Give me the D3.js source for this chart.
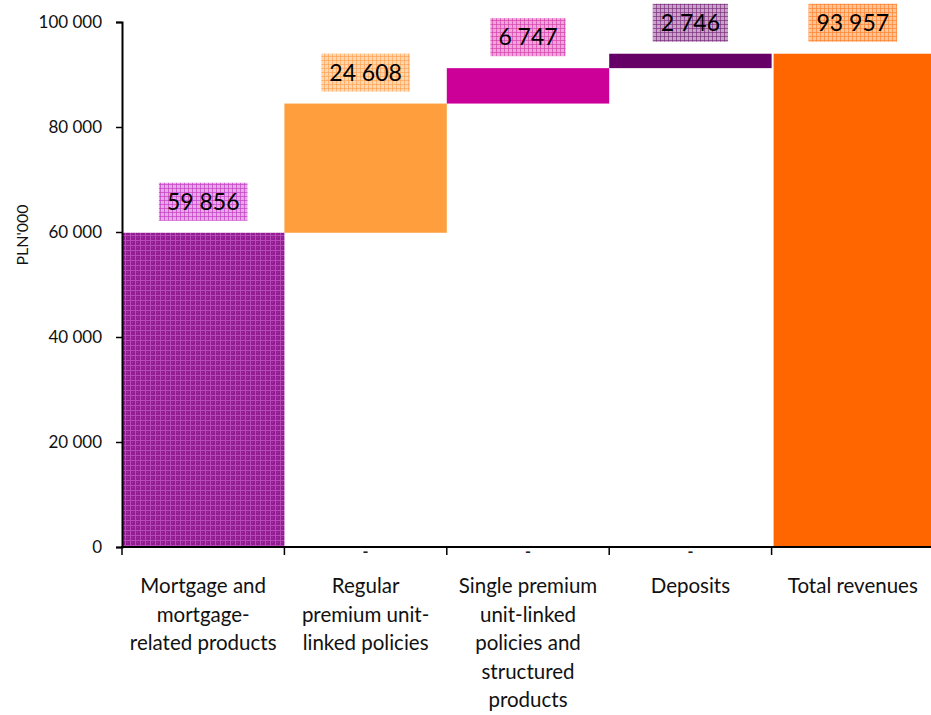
<!DOCTYPE html>
<html>
<head>
<meta charset="utf-8">
<script src="https://cdn.jsdelivr.net/npm/d3@7"></script>
<style>
  html, body { margin: 0; padding: 0; background: #fff; }
  svg { display: block; font-family: Lato, "Open Sans", sans-serif; }
</style>
</head>
<body>
<svg id="chart" width="931" height="715"></svg>
<script>
// Revenue components (PLN'000) building up to the total
const categories = [
  "Mortgage and\nmortgage-\nrelated products",
  "Regular\npremium unit-\nlinked policies",
  "Single premium\nunit-linked\npolicies and\nstructured\nproducts",
  "Deposits",
  "Total revenues"
];
const increments = [59856, 24608, 6747, 2746];
const totalValue = 93957;
const yTicks = [0, 20000, 40000, 60000, 80000, 100000];
// Zero-valued helper labels shown under the floating bars
const baseLabels = ["", "-", "-", "-", ""];

const barFills = ["url(#patPurple)", "#FF9E3D", "#CC0099", "#660066", "#FF6600"];
const labelStyles = [
  { bg: "#E9A6E9", line: "#C23AC2" },
  { bg: "#FFD6AE", line: "#FFA050" },
  { bg: "#F2A3DC", line: "#D23FAA" },
  { bg: "#C9A2C9", line: "#7A2A7A" },
  { bg: "#FFC597", line: "#FF7E2A" }
];

// Build waterfall segments
const segments = [];
let running = 0;
increments.forEach((v, i) => {
  segments.push({ cat: categories[i], y0: running, y1: running + v, value: v });
  running += v;
});
segments.push({ cat: categories[4], y0: 0, y1: totalValue, value: totalValue });

const svg = d3.select("#chart");

const x = d3.scaleBand().domain(categories).range([122, 934]).padding(0);
const y = d3.scaleLinear().domain([0, 100000]).range([547, 22]);

// Patterns
const defs = svg.append("defs");
const mainPat = defs.append("pattern").attr("id", "patPurple")
  .attr("patternUnits", "userSpaceOnUse").attr("width", 5).attr("height", 5);
mainPat.append("rect").attr("width", 5).attr("height", 5).attr("fill", "#921C92");
mainPat.append("rect").attr("x", 0).attr("y", 0).attr("width", 5).attr("height", 1).attr("fill", "#B64AB6");
mainPat.append("rect").attr("x", 0).attr("y", 0).attr("width", 1).attr("height", 5).attr("fill", "#B64AB6");
mainPat.append("rect").attr("x", 2).attr("y", 2).attr("width", 1).attr("height", 1).attr("fill", "#A634A6");

labelStyles.forEach((s, i) => {
  const p = defs.append("pattern").attr("id", "patLabel" + i)
    .attr("patternUnits", "userSpaceOnUse").attr("width", 4).attr("height", 4);
  p.append("rect").attr("width", 4).attr("height", 4).attr("fill", s.bg);
  p.append("rect").attr("width", 4).attr("height", 1).attr("fill", s.line).attr("opacity", 0.65);
  p.append("rect").attr("width", 1).attr("height", 4).attr("fill", s.line).attr("opacity", 0.65);
});

// Bars
svg.append("g").selectAll("rect").data(segments).join("rect")
  .attr("x", d => x(d.cat) + (d === segments[4] ? 2 : 0))
  .attr("width", d => x.bandwidth() - (d === segments[4] ? 2 : 0))
  .attr("y", d => y(d.y1))
  .attr("height", d => y(d.y0) - y(d.y1))
  .attr("fill", (d, i) => barFills[i]);

// Y axis
const yAxis = svg.append("g").attr("transform", "translate(122,0)")
  .call(d3.axisLeft(y).tickValues(yTicks).tickSize(6).tickPadding(14)
    .tickFormat(d => d3.format(",")(d).replace(/,/g, "\u2005")));
yAxis.select(".domain").attr("stroke", "#000").attr("stroke-width", 2);
yAxis.selectAll(".tick line").attr("stroke", "#000").attr("stroke-width", 1.5);
yAxis.selectAll(".tick text").attr("font-size", 17).attr("fill", "#111")
  .attr("font-family", "Lato, sans-serif");

// X axis line with boundary ticks
const xAxisG = svg.append("g");
xAxisG.append("line").attr("x1", 121).attr("x2", 931).attr("y1", 547).attr("y2", 547)
  .attr("stroke", "#000").attr("stroke-width", 2);
xAxisG.selectAll("line.bound").data(categories).join("line").attr("class", "bound")
  .attr("x1", d => x(d)).attr("x2", d => x(d)).attr("y1", 547).attr("y2", 555)
  .attr("stroke", "#000").attr("stroke-width", 1.5);

// Category labels
xAxisG.selectAll("text.cat").data(categories).join("text").attr("class", "cat")
  .attr("text-anchor", "middle").attr("font-size", 20.5).attr("fill", "#111")
  .each(function (d) {
    const t = d3.select(this);
    d.split("\n").forEach((line, k) => {
      t.append("tspan").attr("x", x(d) + x.bandwidth() / 2)
        .attr("y", 593 + k * 28.5).text(line);
    });
  });

// Helper "-" labels
svg.append("g").selectAll("text").data(baseLabels).join("text")
  .attr("x", (d, i) => x(categories[i]) + x.bandwidth() / 2)
  .attr("y", 557).attr("text-anchor", "middle").attr("font-weight", "bold")
  .attr("font-size", 16).attr("fill", "#222").text(d => d);

// Value labels with patterned boxes
const fmt = v => d3.format(",")(v).replace(/,/g, " ");
const lbl = svg.append("g").selectAll("g").data(segments).join("g");
lbl.each(function (d, i) {
  const g = d3.select(this);
  const cx = x(d.cat) + x.bandwidth() / 2;
  const txt = g.append("text").attr("font-size", 23).attr("text-anchor", "middle")
    .attr("fill", "#000").text(fmt(d.value));
  const w = txt.node().getComputedTextLength() + 16;
  const h = 38;
  let top = y(d.y1) - 12 - h;
  if (top < 1) top = 1;
  g.insert("rect", "text").attr("x", cx - w / 2).attr("y", top)
    .attr("width", w).attr("height", h).attr("fill", "url(#patLabel" + i + ")");
  txt.attr("x", cx).attr("y", top + h / 2 + 8);
});

// Axis title
svg.append("text").attr("transform", "translate(28,235) rotate(-90)")
  .attr("text-anchor", "middle").attr("font-size", 16).attr("fill", "#111")
  .text("PLN'000");
</script>
</body>
</html>
